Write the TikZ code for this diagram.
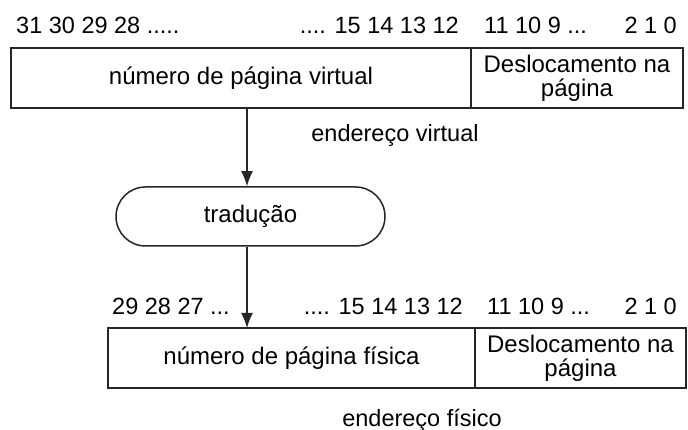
\documentclass[tikz,border=0pt]{standalone}
\usepackage{fontspec}
\setmainfont{Liberation Sans}
\usetikzlibrary{arrows.meta}
\begin{document}
\begin{tikzpicture}[x=1pt,y=-1pt,
  font=\fontsize{23.5}{26}\selectfont,
  field/.style={draw=black!85, line width=1.5pt, inner sep=0pt, outer sep=0pt, align=center, anchor=north west, font=\fontsize{24}{27}\selectfont},
  lbl/.style={inner sep=0pt, anchor=base west},
  lblr/.style={inner sep=0pt, anchor=base east},
  arr/.style={line width=1.5pt, draw=black!85, -{Latex[length=15pt,width=12pt]}},
  pill/.style={draw=black!85, line width=1.5pt, rounded corners=29.5pt, minimum width=269pt, minimum height=59pt, inner sep=0pt, font=\fontsize{24}{27}\selectfont}
]
\useasboundingbox[fill=white] (0,0) rectangle (688,430);
% virtual address
\node[field, minimum width=460pt, minimum height=60pt] (vpn) at (11,48) {número de página virtual};
\node[field, minimum width=212pt, minimum height=60pt] (voff) at (471,48) {Deslocamento na\\[-3pt]página};
\node[lbl] (t1) at (16,34) {31 30 29 28 .....};
\node[lblr] (t2) at (459,34) {.... 15 14 13 12};
\node[lbl] (t3) at (484,34) {11 10 9 ...};
\node[lblr] (t4) at (677,34) {2 1 0};
\node (ev) at (395,135) {endereço virtual};
% translation
\node[pill] (tr) at (250.5,216.5) {tradução};
% physical address
\node[field, minimum width=367pt, minimum height=60pt] (ppn) at (108,328) {número de página física};
\node[field, minimum width=211pt, minimum height=60pt] (poff) at (475,328) {Deslocamento na\\[-3pt]página};
\node[lbl] (b1) at (112,315) {29 28 27 ...};
\node[lblr] (b2) at (463,315) {.... 15 14 13 12};
\node[lbl] (b3) at (487,315) {11 10 9 ...};
\node[lblr] (b4) at (677,315) {2 1 0};
\node (ef) at (422,420) {endereço físico};
% connectors
\coordinate (ax) at (247,0);
\draw[arr] (vpn.south -| ax) -- (tr.north -| ax);
\draw[arr] (tr.south -| ax) -- (ppn.north -| ax);
\end{tikzpicture}
\end{document}
